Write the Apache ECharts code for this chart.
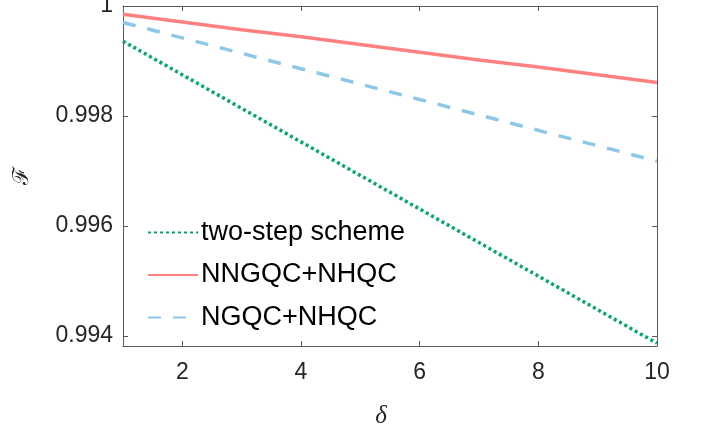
<!DOCTYPE html>
<html>
<head>
<meta charset="utf-8">
<script src="https://cdn.jsdelivr.net/npm/echarts@6/dist/echarts.min.js"></script>
<style>html,body{margin:0;padding:0;background:#fff}#c{width:702px;height:428px}</style>
</head>
<body>
<div id="c"></div>
<script>
const deltaValues = [1, 2, 3, 4, 5, 6, 7, 8, 9, 10];
const twoStep = [0.99936, 0.99875, 0.99814, 0.99753, 0.99692, 0.99631, 0.99570, 0.99509, 0.99448, 0.99387];
const nngqcNhqc = [0.99985, 0.99971, 0.99957, 0.99944, 0.99930, 0.99916, 0.99902, 0.99889, 0.99875, 0.99861];
const ngqcNhqc = [0.99970, 0.99942, 0.99914, 0.99886, 0.99858, 0.99830, 0.99802, 0.99774, 0.99746, 0.99718];
const xTicks = [2, 4, 6, 8, 10];
const yTicks = [0.994, 0.996, 0.998, 1];
const seriesNames = ['two-step scheme', 'NNGQC+NHQC', 'NGQC+NHQC'];

const pairs = arr => deltaValues.map((x, i) => [x, arr[i]]);
const font = '"Liberation Sans", Arial, Helvetica, sans-serif';
const axisColor = '#5a5a5a';
const textColor = '#262626';

function xAx(pos, labels) {
  return {
    type: 'value', position: pos, min: 1, max: 10,
    axisLine: { show: true, onZero: false, lineStyle: { color: axisColor, width: 1 } },
    axisTick: { show: true, inside: true, length: 5, customValues: xTicks, lineStyle: { color: axisColor } },
    axisLabel: { show: labels, customValues: xTicks, color: textColor, fontSize: 23, fontFamily: font, margin: 15 },
    splitLine: { show: false },
    name: labels ? 'δ' : '', nameLocation: 'middle', nameGap: 58,
    nameTextStyle: { fontFamily: '"Liberation Serif", "DejaVu Serif", serif', fontStyle: 'italic', fontSize: 25, color: textColor, padding: [0, 18, 0, 0] }
  };
}
function yAx(pos, labels) {
  return {
    type: 'value', position: pos, min: 0.99382, max: 1,
    axisLine: { show: true, onZero: false, lineStyle: { color: axisColor, width: 1 } },
    axisTick: { show: true, inside: true, length: 5, customValues: yTicks, lineStyle: { color: axisColor } },
    axisLabel: { show: labels, customValues: yTicks, color: textColor, fontSize: 23, fontFamily: font, margin: 10,
      formatter: v => String(parseFloat(Number(v).toFixed(3))) },
    splitLine: { show: false },
    name: labels ? 'ℱ' : '', nameLocation: 'middle', nameGap: 90, nameRotate: 90,
    nameTextStyle: { fontFamily: '"DejaVu Serif", "Liberation Serif", serif', fontSize: 22, color: textColor, padding: [0, 0, 0, 0] }
  };
}

const chart = echarts.init(document.getElementById('c'), null, { renderer: 'canvas' });
chart.setOption({
  animation: false,
  backgroundColor: '#fff',
  grid: { left: 123, right: 45, top: 6, bottom: 82, containLabel: false, outerBoundsMode: 'none' },
  xAxis: [xAx('bottom', true), xAx('top', false)],
  yAxis: [yAx('left', true), yAx('right', false)],
  legend: {
    orient: 'vertical', left: 147, top: 219, padding: 0,
    itemWidth: 50, itemHeight: 28, itemGap: 15.5,
    itemStyle: { opacity: 0 },
    textStyle: { fontSize: 27, fontFamily: font, color: '#000', padding: [0, 0, 0, -2] },
    data: seriesNames
  },
  series: [
    { name: seriesNames[0], type: 'line', showSymbol: false, symbol: 'none', data: pairs(twoStep),
      lineStyle: { color: '#00A86B', width: 3.5, type: [3, 3], cap: 'butt' }, itemStyle: { color: '#00A86B' } },
    { name: seriesNames[1], type: 'line', showSymbol: false, symbol: 'none', data: pairs(nngqcNhqc),
      lineStyle: { color: '#FF8080', width: 3.5, type: 'solid' }, itemStyle: { color: '#FF8080' } },
    { name: seriesNames[2], type: 'line', showSymbol: false, symbol: 'none', data: pairs(ngqcNhqc),
      lineStyle: { color: '#8DC8E8', width: 3.5, type: [13, 12], cap: 'butt' }, itemStyle: { color: '#8DC8E8' } }
  ]
});
</script>
</body>
</html>
